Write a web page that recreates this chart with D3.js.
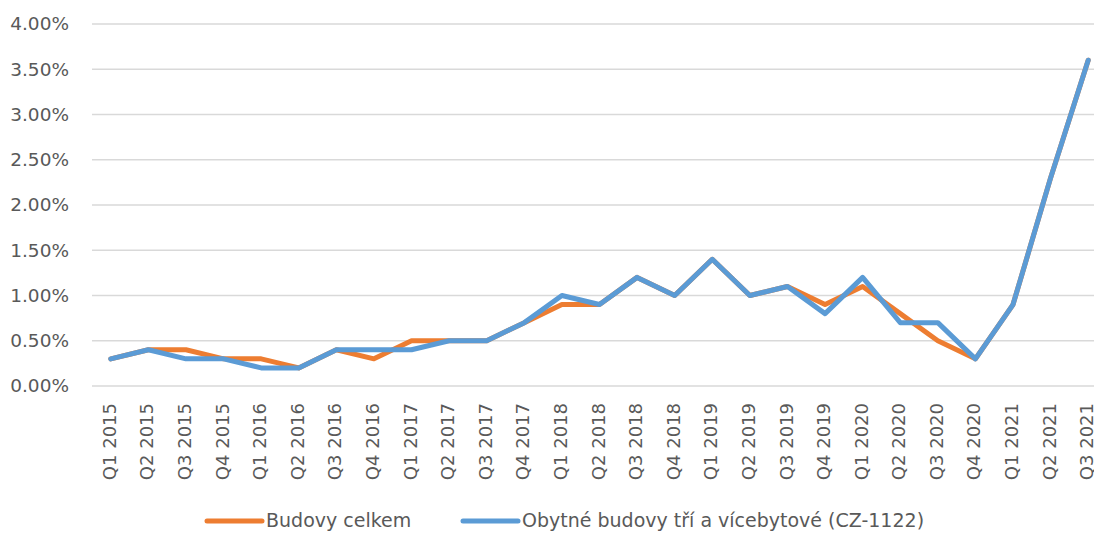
<!DOCTYPE html>
<html>
<head>
<meta charset="utf-8">
<script src="https://cdn.jsdelivr.net/npm/d3@7"></script>
<style>
  body { margin: 0; background: #fff; }
  text { font-family: "DejaVu Sans", sans-serif; fill: #595959; }
</style>
</head>
<body>
<div id="chart"></div>
<script>
const categories = [
  "Q1 2015", "Q2 2015", "Q3 2015", "Q4 2015",
  "Q1 2016", "Q2 2016", "Q3 2016", "Q4 2016",
  "Q1 2017", "Q2 2017", "Q3 2017", "Q4 2017",
  "Q1 2018", "Q2 2018", "Q3 2018", "Q4 2018",
  "Q1 2019", "Q2 2019", "Q3 2019", "Q4 2019",
  "Q1 2020", "Q2 2020", "Q3 2020", "Q4 2020",
  "Q1 2021", "Q2 2021", "Q3 2021"
];
// values in percent
const budovyCelkem = [
  0.3, 0.4, 0.4, 0.3, 0.3, 0.2, 0.4, 0.3, 0.5, 0.5, 0.5, 0.7,
  0.9, 0.9, 1.2, 1.0, 1.4, 1.0, 1.1, 0.9, 1.1, 0.8, 0.5, 0.3,
  0.9, 2.3, 3.6
];
const obytneBudovy = [
  0.3, 0.4, 0.3, 0.3, 0.2, 0.2, 0.4, 0.4, 0.4, 0.5, 0.5, 0.7,
  1.0, 0.9, 1.2, 1.0, 1.4, 1.0, 1.1, 0.8, 1.2, 0.7, 0.7, 0.3,
  0.9, 2.3, 3.6
];
const yTicks = [0, 0.5, 1, 1.5, 2, 2.5, 3, 3.5, 4];
const seriesNames = ["Budovy celkem", "Obytné budovy tří a vícebytové (CZ-1122)"];

const width = 1094, height = 533;
const margin = { top: 24, right: -13, bottom: 147, left: 92 };

const svg = d3.select("#chart").append("svg")
  .attr("width", width).attr("height", height);

const x = d3.scaleBand()
  .domain(categories)
  .range([margin.left, width - margin.right]);

const y = d3.scaleLinear()
  .domain([0, 4])
  .range([height - margin.bottom, margin.top]);

// gridlines
svg.append("g")
  .selectAll("line")
  .data(yTicks)
  .join("line")
  .attr("x1", margin.left)
  .attr("x2", width - margin.right)
  .attr("y1", d => y(d))
  .attr("y2", d => y(d))
  .attr("stroke", "#d9d9d9")
  .attr("stroke-width", 1.5);

// y axis labels
svg.append("g")
  .attr("transform", `translate(${margin.left},0)`)
  .call(d3.axisLeft(y).tickValues(yTicks).tickSize(0).tickPadding(23)
    .tickFormat(d => d.toFixed(2) + "%"))
  .call(g => g.select(".domain").remove())
  .selectAll("text")
  .attr("font-size", "18.5px")
  .attr("fill", "#595959")
  .attr("font-family", "DejaVu Sans, sans-serif");

// x axis labels
svg.append("g")
  .attr("transform", `translate(0,${height - margin.bottom})`)
  .call(d3.axisBottom(x).tickSize(0).tickPadding(0))
  .call(g => g.select(".domain").remove())
  .selectAll("text")
  .attr("font-size", "18px")
  .attr("fill", "#595959")
  .attr("font-family", "DejaVu Sans, sans-serif")
  .attr("transform", "rotate(-90)")
  .attr("text-anchor", "end")
  .attr("x", -17)
  .attr("y", 0)
  .attr("dy", "0.28em");

const line = d3.line()
  .x((d, i) => x(categories[i]) + x.bandwidth() / 2)
  .y(d => y(d));

const colors = ["#ED7D31", "#5B9BD5"];
[budovyCelkem, obytneBudovy].forEach((s, i) => {
  svg.append("path")
    .datum(s)
    .attr("fill", "none")
    .attr("stroke", colors[i])
    .attr("stroke-width", 5)
    .attr("stroke-linejoin", "round")
    .attr("stroke-linecap", "round")
    .attr("d", line);
});

// legend
const legendItems = [
  { x: 207, color: colors[0], name: seriesNames[0] },
  { x: 463, color: colors[1], name: seriesNames[1] }
];
const lg = svg.append("g");
legendItems.forEach(it => {
  lg.append("line")
    .attr("x1", it.x).attr("x2", it.x + 55)
    .attr("y1", 521).attr("y2", 521)
    .attr("stroke", it.color)
    .attr("stroke-width", 5)
    .attr("stroke-linecap", "round");
  lg.append("text")
    .attr("x", it.x + 59)
    .attr("y", 527)
    .attr("font-size", "19px")
    .text(it.name);
});
</script>
</body>
</html>
